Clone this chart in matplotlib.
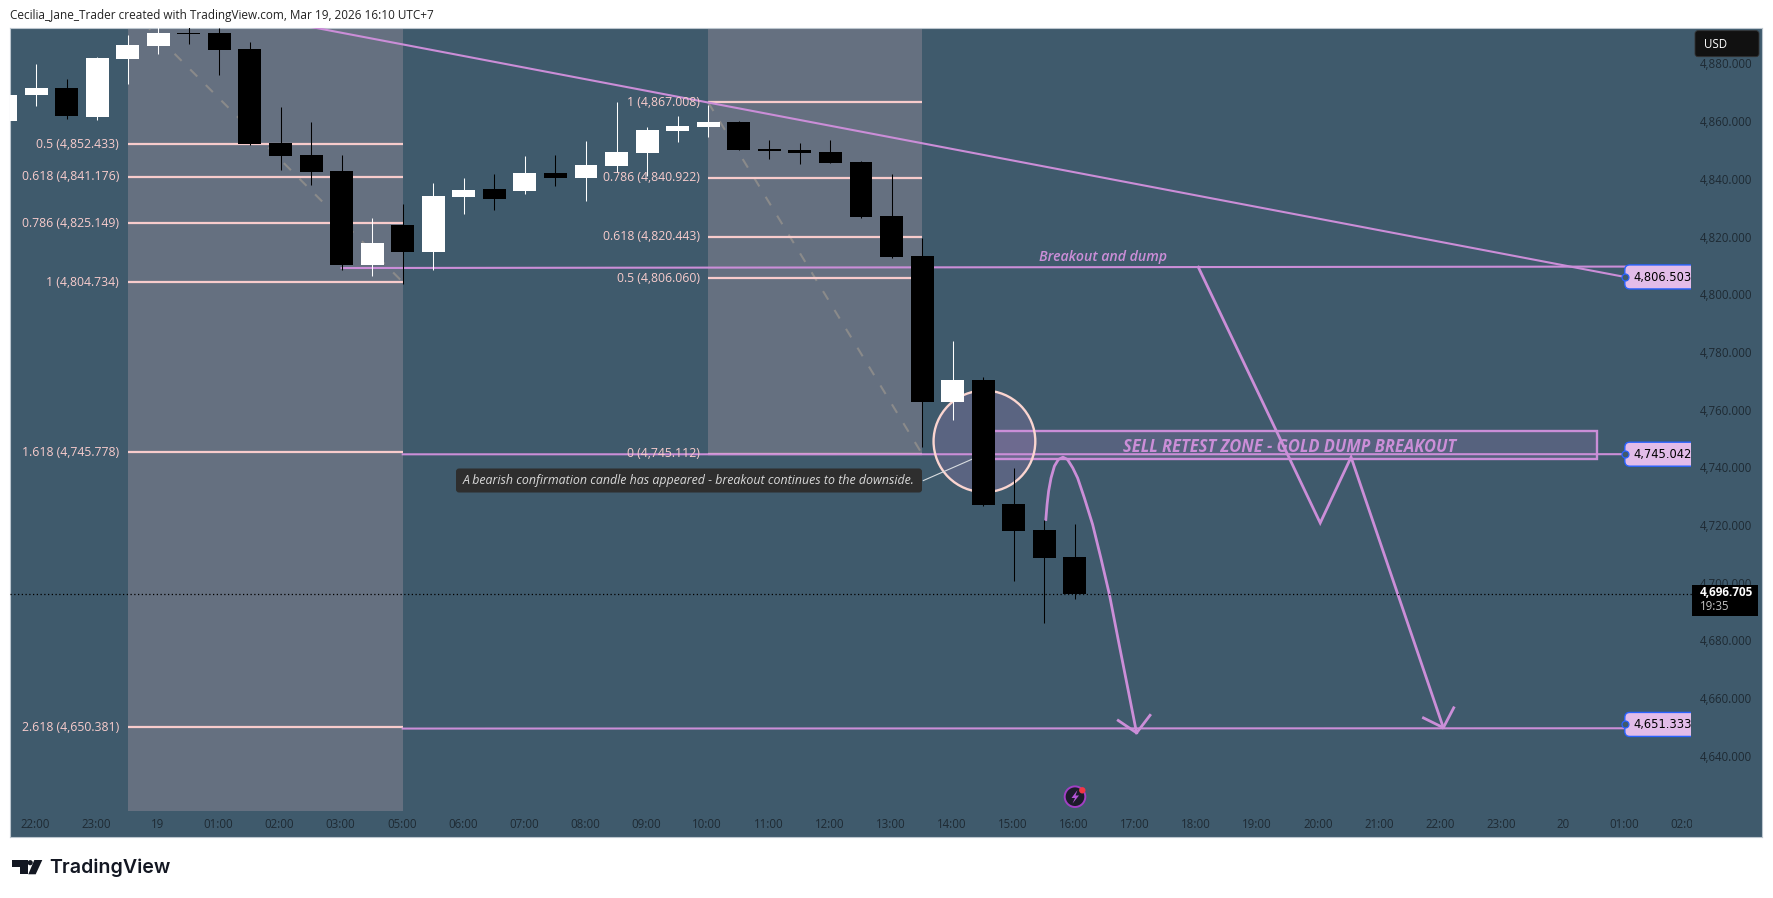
import matplotlib
matplotlib.use("Agg")
import matplotlib.pyplot as plt
from matplotlib.patches import Rectangle, Ellipse, FancyBboxPatch, Polygon, Circle
from matplotlib.transforms import IdentityTransform, Bbox, Affine2D

# ---- candle data (30-minute bars, index 0 = 22:00) ----
index = list(range(-1, 35))
opens = [4860.7, 4869.6, 4871.9, 4861.9, 4882.0, 4886.5, 4891.0, 4891.0, 4885.5, 4852.9, 4848.7, 4843.2,
         4810.6, 4824.4, 4815.1, 4834.2, 4836.9, 4836.2, 4842.5, 4840.7, 4844.9, 4849.4, 4857.0, 4858.4,
         4860.2, 4850.8, 4850.5, 4849.8, 4846.3, 4827.6, 4813.7, 4763.1, 4770.7, 4727.7, 4718.7, 4709.3]
closes = [4869.5, 4871.9, 4862.2, 4882.4, 4886.9, 4891.0, 4890.7, 4885.1, 4852.5, 4848.4, 4842.8, 4810.6,
          4818.2, 4815.1, 4834.5, 4836.6, 4833.5, 4842.5, 4840.7, 4845.2, 4849.8, 4857.4, 4858.8, 4860.2,
          4850.5, 4850.1, 4849.4, 4845.9, 4827.2, 4813.3, 4763.1, 4770.7, 4727.4, 4718.3, 4709.0, 4696.705]
highs = [4869.5, 4880.2, 4875.3, 4882.9, 4890.3, 4894.0, 4894.0, 4893.0, 4887.9, 4865.4, 4860.2, 4848.7,
         4826.9, 4831.8, 4839.0, 4840.7, 4842.1, 4848.4, 4848.7, 4853.6, 4867.1, 4858.4, 4862.2, 4866.1,
         4860.5, 4853.9, 4852.9, 4853.9, 4846.6, 4842.1, 4819.9, 4784.2, 4771.7, 4740.2, 4722.2, 4720.8]
lows = [4860.7, 4865.8, 4861.3, 4860.9, 4873.3, 4883.7, 4887.3, 4876.5, 4852.4, 4843.5, 4838.3, 4808.8,
        4806.8, 4804.1, 4808.8, 4828.3, 4829.6, 4835.2, 4838.0, 4832.8, 4842.8, 4841.4, 4853.2, 4855.0,
        4850.5, 4847.3, 4845.6, 4845.9, 4826.9, 4813.0, 4747.6, 4756.8, 4727.0, 4701.0, 4686.4, 4694.9]

# ---- axes labels ----
time_ticks = [0, 2, 4, 6, 8, 10, 12, 14, 16, 18, 20, 22, 24, 26, 28, 30, 32, 34, 36, 38, 40, 42, 44, 46, 48, 50, 52, 54]
time_labels = ["22:00", "23:00", "19", "01:00", "02:00", "03:00", "05:00", "06:00", "07:00", "08:00", "09:00",
               "10:00", "11:00", "12:00", "13:00", "14:00", "15:00", "16:00", "17:00", "18:00", "19:00", "20:00",
               "21:00", "22:00", "23:00", "20", "01:00", "02:00"]
price_ticks = list(range(4640, 4881, 20))

# ---- Fibonacci drawings ----
fib1_levels = [0.5, 0.618, 0.786, 1, 1.618, 2.618]
fib1_prices = [4852.433, 4841.176, 4825.149, 4804.734, 4745.778, 4650.381]
fib1_span = (3, 12)
fib1_trend = ([3, 12], [4900.13, 4804.734])
fib2_levels = [1, 0.786, 0.618, 0.5, 0]
fib2_prices = [4867.008, 4840.922, 4820.443, 4806.060, 4745.112]
fib2_span = (22, 29)
fib2_trend = ([22, 29], [4867.008, 4745.112])

# ---- purple drawings ----
trend_x, trend_y = [8, 52], [4895.2, 4806.503]
break_x, break_y = [10, 52], [4809.6, 4810.1]
retest_x, retest_y = [12, 52], [4745.0, 4745.042]
target_x, target_y = [12, 52], [4649.9, 4650.0]
zig_x = [38.04, 42.03, 43.04, 46.06]
zig_y = [4809.9, 4721.2, 4744.0, 4650.2]
zig_head_x = [45.41, 46.06, 46.40]
zig_head_y = [4653.6, 4650.2, 4657.1]
curve_x = [33.05, 33.09, 33.14, 33.22, 33.33, 33.46, 33.61, 33.76, 33.93, 34.09, 34.31, 34.58, 34.85, 35.13,
           35.45, 35.73, 36.02]
curve_y = [4722.4, 4727.6, 4732.2, 4736.8, 4740.9, 4743.2, 4744.0, 4743.2, 4740.3, 4736.8, 4729.9, 4720.7,
           4709.1, 4696.4, 4679.0, 4664.0, 4648.4]
curve_head_x = [35.42, 36.02, 36.46]
curve_head_y = [4652.7, 4648.4, 4654.5]
note_x, note_y = [29.04, 31.0], [4735.9, 4745.0]
price_tags = [4806.503, 4745.042, 4651.333]
last_price = 4696.705

W, H = 1773, 898
BG = "#3f5a6c"
PURPLE = "#cb8ed8"
PINK = "#f8cccc"
FONT = "Open Sans"
plt.rcParams["font.family"] = [FONT, "DejaVu Sans"]

fig = plt.figure(figsize=(W / 100, H / 100), dpi=100, facecolor="white")
L, R, T, B = 9.5, 1762.0, 27.5, 837.0
ax = fig.add_axes([L / W, 1 - B / H, (R - L) / W, (B - T) / H], facecolor=BG)
ax.set_xlim(-0.87, 56.49)
ax.set_ylim(4612.3, 4893.0)
for s in ax.spines.values():
    s.set_color("#bcc6ce")
    s.set_linewidth(0.8)

ID = IdentityTransform()


def py(y):
    return H - y


# axes ticks drawn inside the pane, TradingView style
ax.yaxis.tick_right()
ax.set_yticks(price_ticks)
ax.set_yticklabels([f"{p:,.3f}" for p in price_ticks])
ax.tick_params(axis="y", length=0, pad=-7.2, labelsize=8.3, labelcolor="#1e2a33")
for t in ax.get_yticklabels():
    t.set_ha("right")
    t.set_transform(t.get_transform() + Affine2D().translate(0, 1.5))
ax.set_xticks(time_ticks)
ax.set_xticklabels(time_labels)
ax.tick_params(axis="x", length=0, pad=-13.5, labelsize=8.3, labelcolor="#1e2a33")
clip = Bbox([[0, 0], [1692, H]])
for t in ax.get_xticklabels():
    t.set_clip_box(clip)
    t.set_clip_on(True)
    t.set_transform(t.get_transform() + Affine2D().translate(-1, 0))

# shaded Fibonacci zones
ax.add_patch(Rectangle((fib1_span[0], 4621.3), fib1_span[1] - fib1_span[0], 300, fc="#ffcdd2", alpha=0.2, lw=0, zorder=1))
ax.add_patch(Rectangle((fib2_span[0], fib2_prices[-1]), fib2_span[1] - fib2_span[0], 300, fc="#ffcdd2", alpha=0.2, lw=0, zorder=1))

for xs, ys in (fib1_trend, fib2_trend):
    ax.plot(xs, ys, color="#8a8a8a", lw=1.5, ls=(0, (4.8, 5.8)), zorder=1.5)

for span, levels, prices, lx in ((fib1_span, fib1_levels, fib1_prices, 2.72),
                                 (fib2_span, fib2_levels, fib2_prices, 21.73)):
    for lev, p in zip(levels, prices):
        ax.plot(span, [p, p], color=PINK, lw=1.6, solid_capstyle="butt", zorder=2)
        ax.text(lx, p, f"{lev} ({p:,.3f})", color=PINK, fontsize=8.8, ha="right", va="center", zorder=3.5, fontweight="medium")

# purple lines
for xs, ys in ((trend_x, trend_y), (break_x, break_y), (retest_x, retest_y), (target_x, target_y)):
    ax.plot(xs, ys, color=PURPLE, lw=1.5, zorder=3)

# zone + circle
ax.add_patch(Rectangle((31, 4743.5), 20.08, 9.5, fc=PURPLE, alpha=0.17, lw=0, zorder=2.5))
ax.add_patch(Rectangle((31, 4743.5), 20.08, 9.5, fc="none", ec=PURPLE, lw=1.7, zorder=3))
ax.add_patch(Ellipse((31.04, 4749.5), 3.33, 35.2, fc=PURPLE, alpha=0.2, lw=0, zorder=2.5))
ax.add_patch(Ellipse((31.04, 4749.5), 3.33, 35.2, fc="none", ec="#fbd5d0", lw=1.7, zorder=3))

ax.text(41.04, 4747.7, "SELL RETEST ZONE - GOLD DUMP BREAKOUT", color=PURPLE, fontsize=11.9, fontweight="bold",
        fontstyle="italic", ha="center", va="center", zorder=3.5)
ax.text(34.92, 4813.4, "Breakout and dump", color=PURPLE, fontsize=10.2, fontstyle="italic", ha="center", va="center",
        zorder=3.5, fontweight="semibold")

# projected path
ax.plot(zig_x, zig_y, color=PURPLE, lw=2.0, zorder=3.2, solid_joinstyle="miter")
ax.plot(zig_head_x, zig_head_y, color=PURPLE, lw=2.0, zorder=3.2)
ax.plot(curve_x, curve_y, color=PURPLE, lw=2.0, zorder=3.2)
ax.plot(curve_head_x, curve_head_y, color=PURPLE, lw=2.0, zorder=3.2)

# last price dotted line
ax.plot([-0.87, 54.2], [last_price, last_price], color="black", lw=0.9, ls=(0, (1, 2)), zorder=3.3)

# candles
for x, o, c, hi, lo in zip(index, opens, closes, highs, lows):
    col = "white" if c >= o else "black"
    ax.plot([x, x], [lo, hi], color=col, lw=0.75, zorder=5, solid_capstyle="butt")
    bottom, height = min(o, c), max(abs(c - o), 0.4)
    ax.add_patch(Rectangle((x - 0.375, bottom), 0.75, height, fc=col, lw=0, zorder=5))

# note box and connector
ax.plot(note_x, note_y, color="#d9dde0", lw=0.8, zorder=4)
ax.add_patch(FancyBboxPatch((459, py(489.5)), 460, 18, boxstyle="round,pad=3,rounding_size=3", transform=ID,
                            fc="#2e2e2e", ec="none", zorder=6))
ax.text(689, py(480.5), "A bearish confirmation candle has appeared - breakout continues to the downside.",
        transform=ID, color="#dadada", fontsize=8.9, fontstyle="italic", ha="center", va="center", zorder=7)

# right-hand price tags
for p in price_tags:
    cx, cy = ax.transData.transform((52, p))
    box = FancyBboxPatch((cx, cy - 12), 85, 24, boxstyle="round,pad=0,rounding_size=5", transform=ID,
                         fc="#e3bce9", ec="#2962ff", lw=1.0, zorder=8)
    ax.add_patch(box)
    box.set_clip_path(None)
    box.set_clip_box(Bbox([[0, 0], [1691, H]]))
    ax.plot([52], [p], marker="o", ms=5, mfc=BG, mec="#2962ff", mew=0.9, zorder=9)
    ax.text(cx + 9, cy - 0.5, f"{p:,.3f}", transform=ID, color="black", fontsize=8.3, family="DejaVu Sans", ha="left",
            va="center", zorder=9)

# last price label
ax.add_patch(Rectangle((1692, py(615.7)), 65.7, 30.7, transform=ID, fc="black", lw=0, zorder=8))
ax.text(1700, py(592.5), f"{last_price:,.3f}", transform=ID, color="white", fontsize=8.5, fontweight="bold", ha="left",
        va="center", zorder=9)
ax.text(1700, py(606.5), "19:35", transform=ID, color="#c4c4c4", fontsize=8.3, ha="left", va="center", zorder=9)

# currency box
ax.add_patch(FancyBboxPatch((1697, py(54.7)), 60, 22, boxstyle="round,pad=2,rounding_size=3", transform=ID,
                            fc="#111111", ec="#333333", lw=0.6, zorder=8))
ax.text(1704, py(44.5), "USD", transform=ID, color="white", fontsize=8.3, ha="left", va="center", zorder=9)

# earnings-style icon
ax.add_patch(Circle((1075, py(796.7)), 10.3, transform=ID, fc="#1d1b2a", ec="#a13fc4", lw=1.4, zorder=6))
ax.add_patch(Polygon([(1077.5, py(790)), (1071.5, py(798)), (1075, py(798)), (1072.5, py(803.5)),
                      (1079, py(795.5)), (1075.5, py(795.5))], transform=ID, fc="#b455d6", lw=0, zorder=7))
ax.add_patch(Circle((1082.3, py(790.3)), 3.2, transform=ID, fc="#f23645", lw=0, zorder=7))

# page header and footer
fig.text(10 / W, 1 - 15 / H, "Cecilia_Jane_Trader created with TradingView.com, Mar 19, 2026 16:10 UTC+7",
         color="#222222", fontsize=8.5, ha="left", va="center")
fig.text(49.5 / W, 1 - 868 / H, "TradingView", family="Inter", fontweight="semibold", color="#131722", fontsize=14.1,
         ha="left", va="center")
for poly in ([(12.3, 860), (27.7, 860), (27.7, 874.3), (20, 874.3), (20, 866.7), (12.3, 866.7)],
             [(34.3, 860), (42.3, 860), (35.7, 874.3), (28.3, 874.3)]):
    fig.add_artist(Polygon([(x, py(y)) for x, y in poly], transform=ID, fc="#131722", lw=0))
fig.add_artist(Circle((30.2, py(862.7)), 2.6, transform=ID, fc="#131722", lw=0))

fig.savefig("out.png", dpi=100, facecolor="white")
